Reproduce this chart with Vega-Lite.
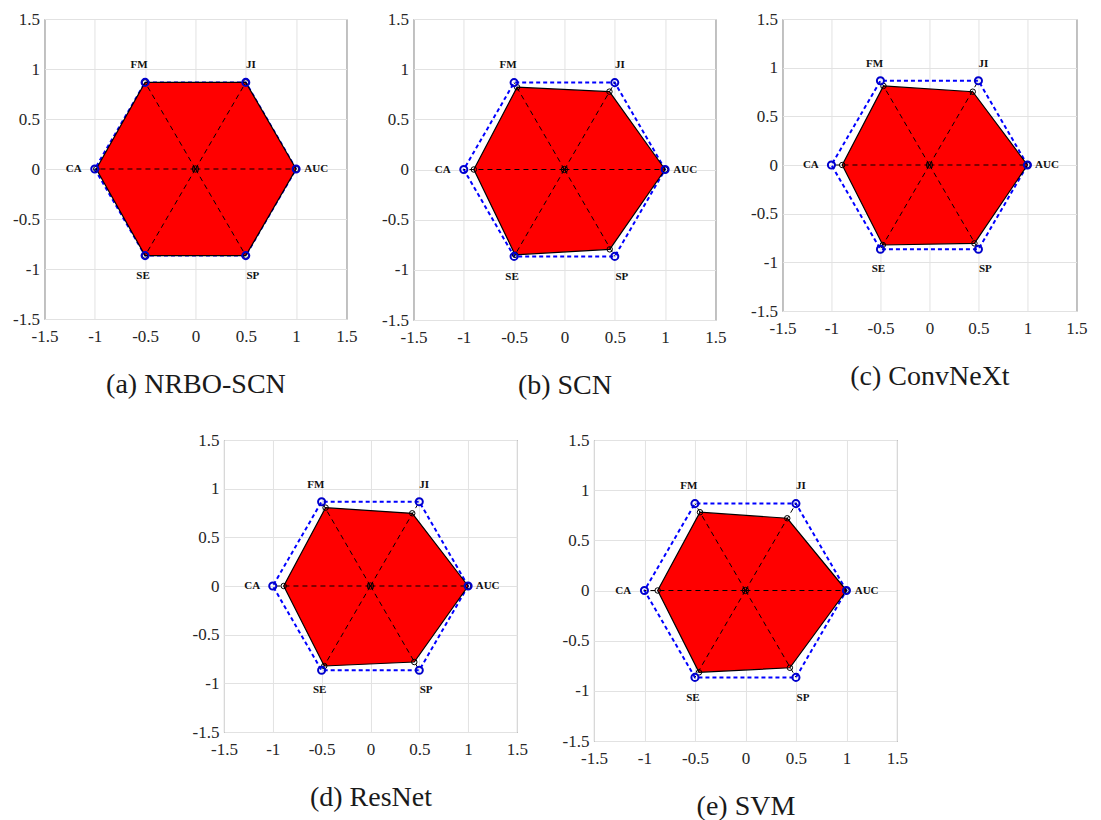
{
  "$schema": "https://vega.github.io/schema/vega-lite/v6.json",
  "padding": {"left": 12, "top": 9, "right": 5, "bottom": 5},
  "datasets": {
    "pts": [
      {"model": "NRBO-SCN", "metric": "AUC", "i": 0, "x": 1.0, "y": 0.0},
      {"model": "NRBO-SCN", "metric": "JI", "i": 1, "x": 0.5, "y": 0.866},
      {"model": "NRBO-SCN", "metric": "FM", "i": 2, "x": -0.5, "y": 0.866},
      {"model": "NRBO-SCN", "metric": "CA", "i": 3, "x": -0.985, "y": 0.0},
      {"model": "NRBO-SCN", "metric": "SE", "i": 4, "x": -0.5, "y": -0.866},
      {"model": "NRBO-SCN", "metric": "SP", "i": 5, "x": 0.5, "y": -0.866},
      {"model": "SCN", "metric": "AUC", "i": 0, "x": 1.0, "y": 0.0},
      {"model": "SCN", "metric": "JI", "i": 1, "x": 0.447, "y": 0.776},
      {"model": "SCN", "metric": "FM", "i": 2, "x": -0.47, "y": 0.82},
      {"model": "SCN", "metric": "CA", "i": 3, "x": -0.9, "y": 0.0},
      {"model": "SCN", "metric": "SE", "i": 4, "x": -0.49, "y": -0.85},
      {"model": "SCN", "metric": "SP", "i": 5, "x": 0.45, "y": -0.796},
      {"model": "ConvNeXt", "metric": "AUC", "i": 0, "x": 1.0, "y": 0.0},
      {"model": "ConvNeXt", "metric": "JI", "i": 1, "x": 0.442, "y": 0.753},
      {"model": "ConvNeXt", "metric": "FM", "i": 2, "x": -0.469, "y": 0.812},
      {"model": "ConvNeXt", "metric": "CA", "i": 3, "x": -0.89, "y": 0.0},
      {"model": "ConvNeXt", "metric": "SE", "i": 4, "x": -0.476, "y": -0.822},
      {"model": "ConvNeXt", "metric": "SP", "i": 5, "x": 0.459, "y": -0.805},
      {"model": "ResNet", "metric": "AUC", "i": 0, "x": 1.0, "y": 0.0},
      {"model": "ResNet", "metric": "JI", "i": 1, "x": 0.428, "y": 0.747},
      {"model": "ResNet", "metric": "FM", "i": 2, "x": -0.459, "y": 0.805},
      {"model": "ResNet", "metric": "CA", "i": 3, "x": -0.888, "y": 0.0},
      {"model": "ResNet", "metric": "SE", "i": 4, "x": -0.473, "y": -0.822},
      {"model": "ResNet", "metric": "SP", "i": 5, "x": 0.449, "y": -0.781},
      {"model": "SVM", "metric": "AUC", "i": 0, "x": 1.0, "y": 0.0},
      {"model": "SVM", "metric": "JI", "i": 1, "x": 0.414, "y": 0.72},
      {"model": "SVM", "metric": "FM", "i": 2, "x": -0.45, "y": 0.78},
      {"model": "SVM", "metric": "CA", "i": 3, "x": -0.869, "y": 0.0},
      {"model": "SVM", "metric": "SE", "i": 4, "x": -0.46, "y": -0.816},
      {"model": "SVM", "metric": "SP", "i": 5, "x": 0.44, "y": -0.77}
    ],
    "ref": [
      {"metric": "AUC", "i": 0, "x": 1.0, "y": 0.0},
      {"metric": "JI", "i": 1, "x": 0.5, "y": 0.866},
      {"metric": "FM", "i": 2, "x": -0.5, "y": 0.866},
      {"metric": "CA", "i": 3, "x": -1.0, "y": 0.0},
      {"metric": "SE", "i": 4, "x": -0.5, "y": -0.866},
      {"metric": "SP", "i": 5, "x": 0.5, "y": -0.866}
    ],
    "lab": [
      {"metric": "AUC", "x": 1.2, "y": 0.0},
      {"metric": "JI", "x": 0.55, "y": 1.04},
      {"metric": "FM", "x": -0.56, "y": 1.04},
      {"metric": "CA", "x": -1.21, "y": 0.0},
      {"metric": "SE", "x": -0.52, "y": -1.07},
      {"metric": "SP", "x": 0.57, "y": -1.07}
    ],
    "ctr": [{"x": 0, "y": 0}]
  },
  "spacing": 30,
  "center": true,
  "vconcat": [
    {
      "spacing": 22,
      "hconcat": [
        {
          "width": 302, "height": 300,
          "encoding": {
            "x": {"field": "x", "type": "quantitative", "scale": {"domain": [-1.5, 1.5], "nice": false, "zero": false}, "axis": {"values": [-1.5, -1, -0.5, 0, 0.5, 1, 1.5], "title": "(a) NRBO-SCN", "labelExpr": "'' + datum.value"}},
            "y": {"field": "y", "type": "quantitative", "scale": {"domain": [-1.5, 1.5], "nice": false, "zero": false}, "axis": {"values": [-1.5, -1, -0.5, 0, 0.5, 1, 1.5], "title": null, "labelExpr": "'' + datum.value"}}
          },
          "layer": [
            {"data": {"name": "ref"}, "mark": {"type": "line", "interpolate": "linear-closed", "stroke": "#0000ff", "strokeWidth": 2, "strokeDash": [4, 3]}, "encoding": {"order": {"field": "i"}}},
            {"data": {"name": "pts"}, "transform": [{"filter": "datum.model === 'NRBO-SCN'"}], "mark": {"type": "line", "interpolate": "linear-closed", "fill": "#ff0000", "stroke": "#000000", "strokeWidth": 1.2}, "encoding": {"order": {"field": "i"}}},
            {"data": {"name": "ref"}, "mark": {"type": "rule", "stroke": "#000000", "strokeWidth": 1, "strokeDash": [5, 4]}, "encoding": {"x": {"datum": 0}, "y": {"datum": 0}, "x2": {"field": "x"}, "y2": {"field": "y"}}},
            {"data": {"name": "pts"}, "transform": [{"filter": "datum.model === 'NRBO-SCN'"}], "mark": {"type": "point", "shape": "circle", "size": 30, "filled": false, "stroke": "#000000", "strokeWidth": 1, "opacity": 1}},
            {"data": {"name": "ref"}, "mark": {"type": "point", "shape": "circle", "size": 50, "filled": false, "stroke": "#0000cc", "strokeWidth": 2, "opacity": 1}},
            {"data": {"name": "ctr"}, "mark": {"type": "point", "shape": "circle", "size": 40, "filled": false, "stroke": "#000000", "strokeWidth": 1, "opacity": 1}},
            {"data": {"name": "ctr"}, "mark": {"type": "point", "shape": "M-1,-1L1,1M-1,1L1,-1", "size": 30, "filled": false, "stroke": "#000000", "strokeWidth": 1, "opacity": 1}},
            {"data": {"name": "lab"}, "mark": {"type": "text", "font": "Liberation Serif", "fontWeight": "bold", "fontSize": 11, "color": "#111111"}, "encoding": {"text": {"field": "metric"}}}
          ]
        },
        {
          "width": 302, "height": 301,
          "encoding": {
            "x": {"field": "x", "type": "quantitative", "scale": {"domain": [-1.5, 1.5], "nice": false, "zero": false}, "axis": {"values": [-1.5, -1, -0.5, 0, 0.5, 1, 1.5], "title": "(b) SCN", "labelExpr": "'' + datum.value"}},
            "y": {"field": "y", "type": "quantitative", "scale": {"domain": [-1.5, 1.5], "nice": false, "zero": false}, "axis": {"values": [-1.5, -1, -0.5, 0, 0.5, 1, 1.5], "title": null, "labelExpr": "'' + datum.value"}}
          },
          "layer": [
            {"data": {"name": "ref"}, "mark": {"type": "line", "interpolate": "linear-closed", "stroke": "#0000ff", "strokeWidth": 2, "strokeDash": [4, 3]}, "encoding": {"order": {"field": "i"}}},
            {"data": {"name": "pts"}, "transform": [{"filter": "datum.model === 'SCN'"}], "mark": {"type": "line", "interpolate": "linear-closed", "fill": "#ff0000", "stroke": "#000000", "strokeWidth": 1.2}, "encoding": {"order": {"field": "i"}}},
            {"data": {"name": "ref"}, "mark": {"type": "rule", "stroke": "#000000", "strokeWidth": 1, "strokeDash": [5, 4]}, "encoding": {"x": {"datum": 0}, "y": {"datum": 0}, "x2": {"field": "x"}, "y2": {"field": "y"}}},
            {"data": {"name": "pts"}, "transform": [{"filter": "datum.model === 'SCN'"}], "mark": {"type": "point", "shape": "circle", "size": 30, "filled": false, "stroke": "#000000", "strokeWidth": 1, "opacity": 1}},
            {"data": {"name": "ref"}, "mark": {"type": "point", "shape": "circle", "size": 50, "filled": false, "stroke": "#0000cc", "strokeWidth": 2, "opacity": 1}},
            {"data": {"name": "ctr"}, "mark": {"type": "point", "shape": "circle", "size": 40, "filled": false, "stroke": "#000000", "strokeWidth": 1, "opacity": 1}},
            {"data": {"name": "ctr"}, "mark": {"type": "point", "shape": "M-1,-1L1,1M-1,1L1,-1", "size": 30, "filled": false, "stroke": "#000000", "strokeWidth": 1, "opacity": 1}},
            {"data": {"name": "lab"}, "mark": {"type": "text", "font": "Liberation Serif", "fontWeight": "bold", "fontSize": 11, "color": "#111111"}, "encoding": {"text": {"field": "metric"}}}
          ]
        },
        {
          "width": 294, "height": 292,
          "encoding": {
            "x": {"field": "x", "type": "quantitative", "scale": {"domain": [-1.5, 1.5], "nice": false, "zero": false}, "axis": {"values": [-1.5, -1, -0.5, 0, 0.5, 1, 1.5], "title": "(c) ConvNeXt", "labelExpr": "'' + datum.value"}},
            "y": {"field": "y", "type": "quantitative", "scale": {"domain": [-1.5, 1.5], "nice": false, "zero": false}, "axis": {"values": [-1.5, -1, -0.5, 0, 0.5, 1, 1.5], "title": null, "labelExpr": "'' + datum.value"}}
          },
          "layer": [
            {"data": {"name": "ref"}, "mark": {"type": "line", "interpolate": "linear-closed", "stroke": "#0000ff", "strokeWidth": 2, "strokeDash": [4, 3]}, "encoding": {"order": {"field": "i"}}},
            {"data": {"name": "pts"}, "transform": [{"filter": "datum.model === 'ConvNeXt'"}], "mark": {"type": "line", "interpolate": "linear-closed", "fill": "#ff0000", "stroke": "#000000", "strokeWidth": 1.2}, "encoding": {"order": {"field": "i"}}},
            {"data": {"name": "ref"}, "mark": {"type": "rule", "stroke": "#000000", "strokeWidth": 1, "strokeDash": [5, 4]}, "encoding": {"x": {"datum": 0}, "y": {"datum": 0}, "x2": {"field": "x"}, "y2": {"field": "y"}}},
            {"data": {"name": "pts"}, "transform": [{"filter": "datum.model === 'ConvNeXt'"}], "mark": {"type": "point", "shape": "circle", "size": 30, "filled": false, "stroke": "#000000", "strokeWidth": 1, "opacity": 1}},
            {"data": {"name": "ref"}, "mark": {"type": "point", "shape": "circle", "size": 50, "filled": false, "stroke": "#0000cc", "strokeWidth": 2, "opacity": 1}},
            {"data": {"name": "ctr"}, "mark": {"type": "point", "shape": "circle", "size": 40, "filled": false, "stroke": "#000000", "strokeWidth": 1, "opacity": 1}},
            {"data": {"name": "ctr"}, "mark": {"type": "point", "shape": "M-1,-1L1,1M-1,1L1,-1", "size": 30, "filled": false, "stroke": "#000000", "strokeWidth": 1, "opacity": 1}},
            {"data": {"name": "lab"}, "mark": {"type": "text", "font": "Liberation Serif", "fontWeight": "bold", "fontSize": 11, "color": "#111111"}, "encoding": {"text": {"field": "metric"}}}
          ]
        }
      ]
    },
    {
      "spacing": 32,
      "hconcat": [
        {
          "width": 293, "height": 292,
          "encoding": {
            "x": {"field": "x", "type": "quantitative", "scale": {"domain": [-1.5, 1.5], "nice": false, "zero": false}, "axis": {"values": [-1.5, -1, -0.5, 0, 0.5, 1, 1.5], "title": "(d) ResNet", "labelExpr": "'' + datum.value"}},
            "y": {"field": "y", "type": "quantitative", "scale": {"domain": [-1.5, 1.5], "nice": false, "zero": false}, "axis": {"values": [-1.5, -1, -0.5, 0, 0.5, 1, 1.5], "title": null, "labelExpr": "'' + datum.value"}}
          },
          "layer": [
            {"data": {"name": "ref"}, "mark": {"type": "line", "interpolate": "linear-closed", "stroke": "#0000ff", "strokeWidth": 2, "strokeDash": [4, 3]}, "encoding": {"order": {"field": "i"}}},
            {"data": {"name": "pts"}, "transform": [{"filter": "datum.model === 'ResNet'"}], "mark": {"type": "line", "interpolate": "linear-closed", "fill": "#ff0000", "stroke": "#000000", "strokeWidth": 1.2}, "encoding": {"order": {"field": "i"}}},
            {"data": {"name": "ref"}, "mark": {"type": "rule", "stroke": "#000000", "strokeWidth": 1, "strokeDash": [5, 4]}, "encoding": {"x": {"datum": 0}, "y": {"datum": 0}, "x2": {"field": "x"}, "y2": {"field": "y"}}},
            {"data": {"name": "pts"}, "transform": [{"filter": "datum.model === 'ResNet'"}], "mark": {"type": "point", "shape": "circle", "size": 30, "filled": false, "stroke": "#000000", "strokeWidth": 1, "opacity": 1}},
            {"data": {"name": "ref"}, "mark": {"type": "point", "shape": "circle", "size": 50, "filled": false, "stroke": "#0000cc", "strokeWidth": 2, "opacity": 1}},
            {"data": {"name": "ctr"}, "mark": {"type": "point", "shape": "circle", "size": 40, "filled": false, "stroke": "#000000", "strokeWidth": 1, "opacity": 1}},
            {"data": {"name": "ctr"}, "mark": {"type": "point", "shape": "M-1,-1L1,1M-1,1L1,-1", "size": 30, "filled": false, "stroke": "#000000", "strokeWidth": 1, "opacity": 1}},
            {"data": {"name": "lab"}, "mark": {"type": "text", "font": "Liberation Serif", "fontWeight": "bold", "fontSize": 11, "color": "#111111"}, "encoding": {"text": {"field": "metric"}}}
          ]
        },
        {
          "width": 303, "height": 301,
          "encoding": {
            "x": {"field": "x", "type": "quantitative", "scale": {"domain": [-1.5, 1.5], "nice": false, "zero": false}, "axis": {"values": [-1.5, -1, -0.5, 0, 0.5, 1, 1.5], "title": "(e) SVM", "labelExpr": "'' + datum.value"}},
            "y": {"field": "y", "type": "quantitative", "scale": {"domain": [-1.5, 1.5], "nice": false, "zero": false}, "axis": {"values": [-1.5, -1, -0.5, 0, 0.5, 1, 1.5], "title": null, "labelExpr": "'' + datum.value"}}
          },
          "layer": [
            {"data": {"name": "ref"}, "mark": {"type": "line", "interpolate": "linear-closed", "stroke": "#0000ff", "strokeWidth": 2, "strokeDash": [4, 3]}, "encoding": {"order": {"field": "i"}}},
            {"data": {"name": "pts"}, "transform": [{"filter": "datum.model === 'SVM'"}], "mark": {"type": "line", "interpolate": "linear-closed", "fill": "#ff0000", "stroke": "#000000", "strokeWidth": 1.2}, "encoding": {"order": {"field": "i"}}},
            {"data": {"name": "ref"}, "mark": {"type": "rule", "stroke": "#000000", "strokeWidth": 1, "strokeDash": [5, 4]}, "encoding": {"x": {"datum": 0}, "y": {"datum": 0}, "x2": {"field": "x"}, "y2": {"field": "y"}}},
            {"data": {"name": "pts"}, "transform": [{"filter": "datum.model === 'SVM'"}], "mark": {"type": "point", "shape": "circle", "size": 30, "filled": false, "stroke": "#000000", "strokeWidth": 1, "opacity": 1}},
            {"data": {"name": "ref"}, "mark": {"type": "point", "shape": "circle", "size": 50, "filled": false, "stroke": "#0000cc", "strokeWidth": 2, "opacity": 1}},
            {"data": {"name": "ctr"}, "mark": {"type": "point", "shape": "circle", "size": 40, "filled": false, "stroke": "#000000", "strokeWidth": 1, "opacity": 1}},
            {"data": {"name": "ctr"}, "mark": {"type": "point", "shape": "M-1,-1L1,1M-1,1L1,-1", "size": 30, "filled": false, "stroke": "#000000", "strokeWidth": 1, "opacity": 1}},
            {"data": {"name": "lab"}, "mark": {"type": "text", "font": "Liberation Serif", "fontWeight": "bold", "fontSize": 11, "color": "#111111"}, "encoding": {"text": {"field": "metric"}}}
          ]
        }
      ]
    }
  ],
  "config": {
    "font": "Liberation Serif",
    "background": "#ffffff",
    "view": {"stroke": "#404040", "strokeWidth": 1},
    "axis": {
      "grid": true, "gridColor": "#e2e2e2", "gridWidth": 1,
      "domain": false, "ticks": false,
      "labelFont": "Liberation Serif", "labelFontSize": 17, "labelColor": "#262626",
      "labelFlush": false, "labelOverlap": false, "labelPadding": 5,
      "titleFont": "Liberation Serif", "titleFontSize": 28, "titleFontWeight": "normal", "titleColor": "#1a1a1a"
    },
    "axisX": {"labelPadding": 9, "titlePadding": 26},
    "title": {"font": "Liberation Serif"}
  }
}
